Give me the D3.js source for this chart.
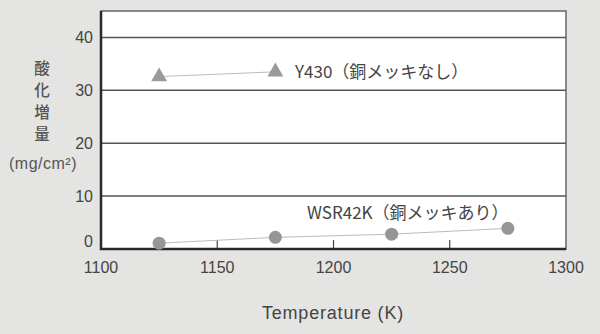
<!DOCTYPE html>
<html>
<head>
<meta charset="utf-8">
<script src="https://cdn.jsdelivr.net/npm/d3@7"></script>
<style>
  html, body { margin: 0; padding: 0; background: #e4e4e2; }
  svg { display: block; }
</style>
</head>
<body>
<svg id="chart" width="600" height="334"></svg>
<script>
// values
const tempsY430 = [1125, 1175];
const valsY430 = [32.6, 33.5];
const tempsWSR = [1125, 1175, 1225, 1275];
const valsWSR = [1.1, 2.2, 2.8, 3.9];
const xTicks = [1100, 1150, 1200, 1250, 1300];
const yTicks = [0, 10, 20, 30, 40];

const plotLeft = 101, plotRight = 566, plotTop = 11, plotBottom = 249;
const svg = d3.select("#chart");
const font = "'Liberation Sans', 'Noto Sans CJK JP', sans-serif";
const jpFont = "'Noto Sans CJK JP', sans-serif";

const x = d3.scaleLinear().domain([1100, 1300]).range([plotLeft, plotRight]);
const y = d3.scaleLinear().domain([0, 45]).range([plotBottom, plotTop]);

// plot area
svg.append("rect")
    .attr("x", plotLeft).attr("y", plotTop)
    .attr("width", plotRight - plotLeft).attr("height", plotBottom - plotTop)
    .attr("fill", "#fff")
    .attr("stroke", "#666").attr("stroke-width", 1.5);

// horizontal grid lines
svg.append("g")
    .selectAll("line")
    .data(yTicks.filter(v => v > 0))
    .join("line")
        .attr("x1", plotLeft).attr("x2", plotRight)
        .attr("y1", d => y(d)).attr("y2", d => y(d))
        .attr("stroke", "#555").attr("stroke-width", 1.5);

// inner x ticks
svg.append("g")
    .selectAll("line")
    .data(xTicks.slice(1, -1))
    .join("line")
        .attr("x1", d => x(d)).attr("x2", d => x(d))
        .attr("y1", plotBottom).attr("y2", plotBottom - 9)
        .attr("stroke", "#444").attr("stroke-width", 1.2);

// left + bottom axis
svg.append("path")
    .attr("d", `M${plotLeft},${plotTop}V${plotBottom}H${plotRight}`)
    .attr("fill", "none")
    .attr("stroke", "#2a2a2a").attr("stroke-width", 2.5);

// tick labels
svg.append("g")
    .selectAll("text")
    .data(yTicks)
    .join("text")
        .attr("x", 93)
        .attr("y", d => Math.min(y(d), plotBottom - 8))
        .attr("dy", "0.36em")
        .attr("text-anchor", "end")
        .attr("font-family", font).attr("font-size", 16)
        .attr("fill", "#444")
        .text(d => d);

svg.append("g")
    .selectAll("text")
    .data(xTicks)
    .join("text")
        .attr("x", d => x(d))
        .attr("y", 267)
        .attr("dy", "0.36em")
        .attr("text-anchor", "middle")
        .attr("font-family", font).attr("font-size", 16)
        .attr("fill", "#444")
        .text(d => d);

// axis titles
svg.append("text")
    .attr("x", 333).attr("y", 313)
    .attr("dy", "0.36em")
    .attr("text-anchor", "middle")
    .attr("font-family", font).attr("font-size", 18)
    .attr("letter-spacing", 0.8)
    .attr("fill", "#444")
    .text("Temperature (K)");

svg.append("g")
    .selectAll("text")
    .data(["酸", "化", "増", "量"])
    .join("text")
        .attr("x", 42)
        .attr("y", (d, i) => 68 + i * 22.3)
        .attr("dy", "0.36em")
        .attr("text-anchor", "middle")
        .attr("font-family", jpFont).attr("font-size", 15.5)
        .attr("font-weight", 500)
        .attr("fill", "#555")
        .text(d => d);

svg.append("text")
    .attr("x", 43).attr("y", 163)
    .attr("dy", "0.36em")
    .attr("text-anchor", "middle")
    .attr("font-family", font).attr("font-size", 16)
    .attr("letter-spacing", 0.5)
    .attr("fill", "#555")
    .text("(mg/cm²)");

// series lines
const line = d3.line().x(d => x(d[0])).y(d => y(d[1]));

svg.append("path")
    .datum(d3.zip(tempsY430, valsY430))
    .attr("d", line)
    .attr("fill", "none").attr("stroke", "#bbb").attr("stroke-width", 1);

svg.append("path")
    .datum(d3.zip(tempsWSR, valsWSR))
    .attr("d", line)
    .attr("fill", "none").attr("stroke", "#bbb").attr("stroke-width", 1);

// markers
svg.append("g")
    .selectAll("path")
    .data(d3.zip(tempsY430, valsY430))
    .join("path")
        .attr("transform", d => `translate(${x(d[0])},${y(d[1])})`)
        .attr("d", d3.symbol(d3.symbolTriangle, 110))
        .attr("fill", "#9a9a9a");

svg.append("g")
    .selectAll("circle")
    .data(d3.zip(tempsWSR, valsWSR))
    .join("circle")
        .attr("cx", d => x(d[0])).attr("cy", d => y(d[1]))
        .attr("r", 6.5)
        .attr("fill", "#969696");

// series labels
svg.append("text")
    .attr("x", 295).attr("y", 72)
    .attr("dy", "0.36em")
    .attr("font-family", jpFont).attr("font-size", 17)
    .attr("fill", "#444")
    .text("Y430（銅メッキなし）");

svg.append("text")
    .attr("x", 307).attr("y", 213)
    .attr("dy", "0.36em")
    .attr("font-family", jpFont).attr("font-size", 17)
    .attr("fill", "#444")
    .text("WSR42K（銅メッキあり）");
</script>
</body>
</html>
